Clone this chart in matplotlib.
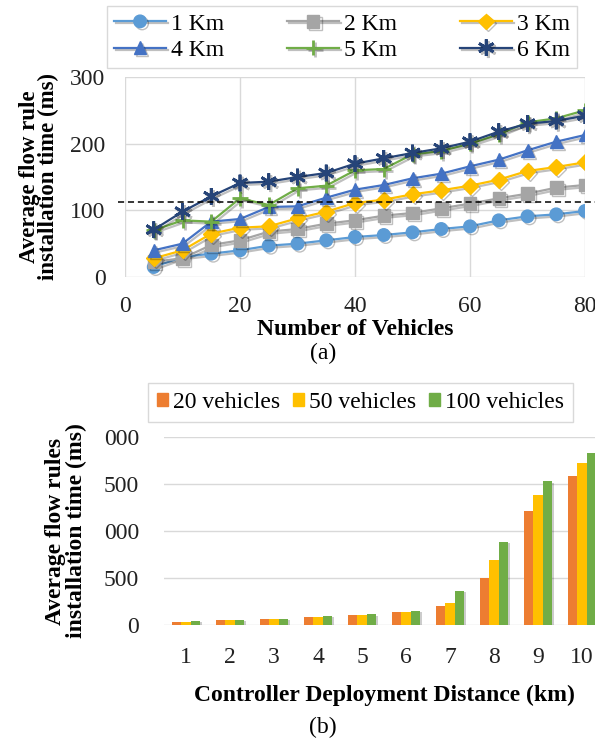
import numpy as np
import matplotlib
matplotlib.use('Agg')
import matplotlib.pyplot as plt
import matplotlib.patheffects as pe
from matplotlib.patches import Patch

plt.rcParams['font.family'] = ['Liberation Serif', 'DejaVu Serif']

# (a) flow rule installation time vs number of vehicles
vehicles = [5, 10, 15, 20, 25, 30, 35, 40, 45, 50, 55, 60, 65, 70, 75, 80]
km1 = [15, 30, 35, 40, 47, 50, 55, 60, 63, 67, 72, 76, 85, 91, 94, 99]
km2 = [23, 28, 48, 55, 68, 72, 80, 85, 92, 96, 103, 110, 118, 125, 134, 138]
km3 = [28, 40, 65, 74, 76, 88, 98, 111, 116, 124, 130, 137, 146, 159, 165, 172]
km4 = [40, 50, 83, 87, 105, 106, 119, 131, 138, 148, 155, 166, 176, 190, 203, 213]
km5 = [70, 85, 83, 118, 108, 133, 137, 160, 162, 184, 189, 200, 214, 232, 238, 250]
km6 = [71, 98, 121, 141, 143, 150, 156, 170, 178, 186, 193, 203, 218, 230, 234, 242]
series_names = ['1 Km', '2 Km', '3 Km', '4 Km', '5 Km', '6 Km']
threshold = 112

# (b) flow rules installation time vs controller distance
distances = [1, 2, 3, 4, 5, 6, 7, 8, 9, 10]
veh20 = [28, 53, 67, 82, 110, 138, 200, 505, 1215, 1590]
veh50 = [28, 53, 67, 84, 110, 138, 230, 695, 1380, 1720]
veh100 = [43, 55, 68, 99, 112, 149, 365, 885, 1530, 1835]
bar_names = ['20 vehicles', '50 vehicles', '100 vehicles']
yticks_b = [0, 500, 1000, 1500, 2000]
ytick_labels_b = ['0', '500', '000', '500', '000']

fig = plt.figure(figsize=(5.95, 7.4), dpi=100)
W, H = 595, 740
fs = 17
grid_c = '#d9d9d9'

# ---------- top chart ----------
ax1 = fig.add_axes([125 / W, 1 - 277 / H, 460 / W, 200 / H])
colors = ['#5b9bd5', '#a5a5a5', '#ffc000', '#4472c4', '#70ad47', '#264478']
markers = ['o', 's', 'D', '^', '+', (6, 2, 0)]
sizes = [9, 9, 8, 9, 11, 12]
shadow = [pe.SimpleLineShadow(offset=(1.5, -1.5), alpha=0.25, shadow_color='k'), pe.Normal()]
handles = []
for ys, c, m, s, name in zip([km1, km2, km3, km4, km5, km6], colors, markers, sizes, series_names):
    h, = ax1.plot(vehicles, ys, color=c, marker=m, ms=s, lw=1.6, mew=2 if m in ['+', (6, 2, 0)] else 1,
                  mec=c, mfc=c, label=name, path_effects=shadow, zorder=3)
    handles.append(h)
ax1.axhline(threshold, xmin=-0.016, xmax=1.03, color='k', ls='--', lw=1.1, dashes=(4, 2.5),
            clip_on=False, zorder=4)
ax1.set_xlim(0, 80)
ax1.set_ylim(0, 300)
ax1.set_xticks([0, 20, 40, 60, 80])
ax1.set_yticks([0, 100, 200, 300])
ax1.grid(True, color=grid_c, lw=1)
ax1.set_axisbelow(True)
for sp in ax1.spines.values():
    sp.set_visible(False)
ax1.tick_params(length=0, labelsize=fs, colors='#222222')
ax1.tick_params(axis='y', pad=14)
ax1.tick_params(axis='x', pad=14)
ax1.set_xlabel('Number of Vehicles', fontsize=fs, fontweight='bold', labelpad=1)
ax1.set_ylabel('Average flow rule\ninstallation time (ms)', fontsize=16.5, fontweight='bold',
               linespacing=0.9, labelpad=8)

# legend fills row by row: 1 2 3 / 4 5 6
order = [0, 3, 1, 4, 2, 5]
leg1 = fig.legend(handles=[handles[i] for i in order], ncol=3, loc='center', mode='expand',
                  bbox_to_anchor=(107 / W, 1 - 67 / H, 470 / W, 60 / H), fontsize=fs,
                  frameon=True, fancybox=False, edgecolor='#d0d0d0', handlelength=2.2,
                  handletextpad=0.2, columnspacing=1.5, borderaxespad=0, labelspacing=0.2,
                  borderpad=0.3)
leg1.get_frame().set_linewidth(1)

fig.text(323 / W, 1 - 353 / H, '(a)', ha='center', va='center', fontsize=fs)

# ---------- bottom chart ----------
ax2 = fig.add_axes([164 / W, 1 - 625 / H, 440 / W, 188 / H])
x = np.arange(len(distances))
bw = 0.212
bar_colors = ['#ed7d31', '#ffc000', '#70ad47']
bar_shadow = [pe.SimplePatchShadow(offset=(1.5, -1), alpha=0.2, shadow_rgbFace='k'), pe.Normal()]
for i, (vals, c) in enumerate(zip([veh20, veh50, veh100], bar_colors)):
    ax2.bar(x + (i - 1) * bw, vals, width=bw, color=c, zorder=3, path_effects=bar_shadow)
ax2.set_xlim(-0.5, len(distances) - 0.5)
ax2.set_ylim(0, 2000)
ax2.set_xticks(x)
ax2.set_xticklabels([str(d) for d in distances])
ax2.set_yticks(yticks_b)
ax2.set_yticklabels(ytick_labels_b)
ax2.grid(True, axis='y', color=grid_c, lw=1)
ax2.set_axisbelow(True)
for sp in ax2.spines.values():
    sp.set_visible(False)
ax2.tick_params(length=0, labelsize=fs, colors='#222222')
ax2.tick_params(axis='y', pad=18)
ax2.tick_params(axis='x', pad=16)
ax2.set_xlabel('Controller Deployment Distance (km)', fontsize=fs, fontweight='bold', labelpad=12)
ax2.set_ylabel('Average flow rules\ninstallation time (ms)', fontsize=17, fontweight='bold',
               linespacing=1.0, labelpad=12)

bar_handles = [Patch(color=c, label=n) for c, n in zip(bar_colors, bar_names)]
leg2 = fig.legend(handles=bar_handles, ncol=3, loc='center', mode='expand',
                  bbox_to_anchor=(148 / W, 1 - 423 / H, 425 / W, 41 / H), fontsize=fs,
                  frameon=True, fancybox=False, edgecolor='#d0d0d0', handlelength=0.45,
                  handleheight=0.45, handletextpad=0.2, columnspacing=0.4, borderaxespad=0,
                  borderpad=0.4)
leg2.get_frame().set_linewidth(1)

fig.text(323 / W, 1 - 727 / H, '(b)', ha='center', va='center', fontsize=fs)

fig.savefig('out.png', dpi=100)
